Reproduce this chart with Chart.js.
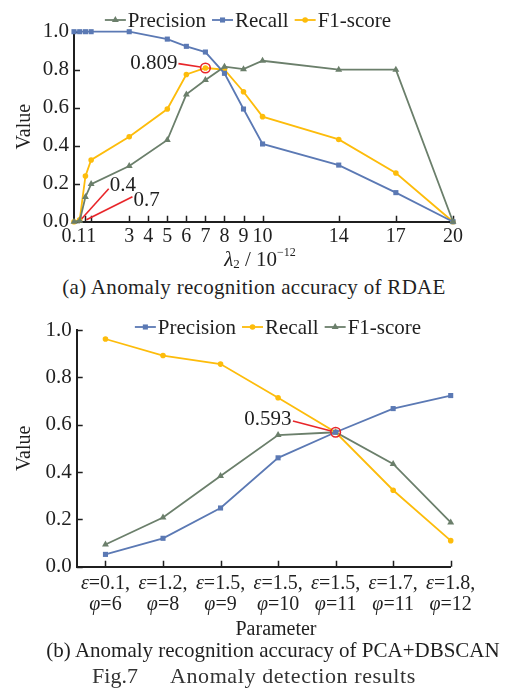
<!DOCTYPE html>
<html>
<head>
<meta charset="utf-8">
<script src="https://cdn.jsdelivr.net/npm/chart.js@4.4.0/dist/chart.umd.min.js"></script>
<style>
  body { margin: 0; background: #fff; }
  #page { position: relative; width: 508px; height: 697px; overflow: hidden;
          font-family: "Liberation Serif", "Times New Roman", serif; color: #1f1f1f; }
  .wrap { position: absolute; left: 0; width: 508px; }
  #wrapA { top: 0; height: 275px; }
  #wrapB { top: 305px; height: 340px; }
  .cap { position: absolute; left: 0; width: 508px; text-align: center; white-space: nowrap;
         font-size: 21px; line-height: 24px; }
</style>
</head>
<body>
<div id="page">
  <div class="wrap" id="wrapA"><canvas id="chartA"></canvas></div>
  <div class="cap" style="top:275px;letter-spacing:0.3px">(a) Anomaly recognition accuracy of RDAE</div>
  <div class="wrap" id="wrapB"><canvas id="chartB"></canvas></div>
  <div class="cap" style="top:638px;left:19px">(b) Anomaly recognition accuracy of PCA+DBSCAN</div>
  <div class="cap" style="top:664px;font-size:22px;color:#333"><span>Fig.7</span><span style="margin-left:32px;letter-spacing:0.6px">Anomaly detection results</span></div>
</div>
<script>
// (a) RDAE, x = lambda2 (x 10^-12)
const lambdaValues = [0.1, 0.4, 0.7, 1, 3, 5, 6, 7, 8, 9, 10, 14, 17, 20];
const rdaePrecision = [0, 0.005, 0.13, 0.198, 0.293, 0.43, 0.67, 0.746, 0.816, 0.803, 0.847, 0.80, 0.80, 0];
const rdaeRecall = [1, 1, 1, 1, 1, 0.961, 0.923, 0.893, 0.781, 0.593, 0.409, 0.298, 0.153, 0];
const rdaeF1 = [0, 0.01, 0.24, 0.325, 0.447, 0.593, 0.775, 0.809, 0.80, 0.684, 0.553, 0.433, 0.256, 0];
const lambdaTicks = [0.1, 0.4, 0.7, 1, 3, 4, 5, 6, 7, 8, 9, 10, 14, 17, 20];
const lambdaTickLabels = ['0.1', '', '', '1', '3', '4', '5', '6', '7', '8', '9', '10', '14', '17', '20'];

// (b) PCA+DBSCAN, x = parameter pair
const epsLabels = ['0.1', '1.2', '1.5', '1.5', '1.5', '1.7', '1.8'];
const phiLabels = ['6', '8', '9', '10', '11', '11', '12'];
const pcaPrecision = [0.052, 0.12, 0.248, 0.46, 0.568, 0.668, 0.723];
const pcaRecall = [0.962, 0.892, 0.856, 0.714, 0.568, 0.323, 0.11];
const pcaF1 = [0.094, 0.208, 0.383, 0.556, 0.568, 0.434, 0.187];

const valueTicks = [0, 0.2, 0.4, 0.6, 0.8, 1.0];

const SERIF = '"Liberation Serif", "Times New Roman", serif';
const INK = '#1f1f1f';
const BLUE = '#5b79b4';
const GREEN = '#6b7f6b';
const YELLOW = '#fdbc0b';
const RED = '#e8262a';

// draw a row of text pieces (mixed fonts) centred on cx
function drawParts(ctx, parts, cx, cy) {
  let total = 0;
  parts.forEach(p => { ctx.font = p.font; p.w = ctx.measureText(p.text).width; total += p.w; });
  let x = cx - total / 2;
  ctx.textAlign = 'left';
  ctx.textBaseline = 'middle';
  parts.forEach(p => { ctx.font = p.font; ctx.fillText(p.text, x, cy + (p.dy || 0)); x += p.w; });
}

// tick marks pointing into the plot
const inwardTicks = {
  id: 'inwardTicks',
  beforeDatasetsDraw(chart) {
    const { ctx, chartArea, scales: { x, y } } = chart;
    ctx.save();
    ctx.strokeStyle = INK;
    ctx.lineWidth = 1.5;
    ctx.beginPath();
    y.ticks.forEach(t => {
      const py = Math.round(y.getPixelForValue(t.value)) + 0.5;
      ctx.moveTo(chartArea.left, py);
      ctx.lineTo(chartArea.left + 6, py);
    });
    x.ticks.forEach(t => {
      if (t.value <= x.min) return;
      const px = Math.round(x.getPixelForValue(t.value)) + 0.5;
      ctx.moveTo(px, chartArea.bottom);
      ctx.lineTo(px, chartArea.bottom - 6);
    });
    ctx.stroke();
    ctx.restore();
  }
};

// legend with "-marker-" icons, drawn as one centred row
const lineLegend = {
  id: 'lineLegend',
  afterDraw(chart, args, opts) {
    const ctx = chart.ctx;
    const font = '21px ' + SERIF;
    ctx.save();
    ctx.font = font;
    const items = chart.data.datasets.map(ds => ({ ds, w: ctx.measureText(ds.label).width }));
    const iconW = 21, gapIcon = 2, gapItem = 6;
    let total = 0;
    items.forEach((it, i) => { total += iconW + gapIcon + it.w + (i ? gapItem : 0); });
    let x = opts.cx - total / 2;
    const y = opts.y;
    items.forEach((it, i) => {
      if (i) x += gapItem;
      ctx.strokeStyle = it.ds.borderColor;
      ctx.lineWidth = 1.8;
      ctx.beginPath();
      ctx.moveTo(x, y);
      ctx.lineTo(x + iconW, y);
      ctx.stroke();
      ctx.fillStyle = it.ds.borderColor;
      Chart.helpers.drawPoint(ctx, { pointStyle: it.ds.pointStyle, radius: it.ds.pointRadius, borderWidth: 0, rotation: 0 }, x + iconW / 2, y);
      x += iconW + gapIcon;
      ctx.fillStyle = INK;
      ctx.font = font;
      ctx.textAlign = 'left';
      ctx.textBaseline = 'middle';
      ctx.fillText(it.ds.label, x, y + 1);
      x += it.w;
    });
    ctx.restore();
  }
};

function ring(ctx, px, py) {
  ctx.strokeStyle = RED;
  ctx.lineWidth = 1.6;
  ctx.beginPath();
  ctx.arc(px, py, 4.8, 0, Math.PI * 2);
  ctx.stroke();
}

function redLine(ctx, x1, y1, x2, y2) {
  ctx.strokeStyle = RED;
  ctx.lineWidth = 1.6;
  ctx.beginPath();
  ctx.moveTo(x1, y1);
  ctx.lineTo(x2, y2);
  ctx.stroke();
}

const notesA = {
  id: 'notesA',
  afterDraw(chart) {
    const { ctx, scales: { x, y } } = chart;
    ctx.save();
    // best F1 point
    const cx = x.getPixelForValue(7), cy = y.getPixelForValue(0.809);
    ring(ctx, cx, cy);
    redLine(ctx, cx - 27, cy - 4.4, cx - 5, cy - 1);
    ctx.fillStyle = INK;
    ctx.font = '21px ' + SERIF;
    ctx.textAlign = 'right';
    ctx.textBaseline = 'middle';
    ctx.fillText('0.809', cx - 28, cy - 4.5);
    // unlabelled ticks 0.4 and 0.7
    const y0 = y.getPixelForValue(0);
    const x4 = x.getPixelForValue(0.4), x7 = x.getPixelForValue(0.7);
    redLine(ctx, x4 + 2, y0 - 3, x4 + 29, y0 - 33);
    redLine(ctx, x7 + 1, y0 - 2, x7 + 47, y0 - 25);
    ctx.textAlign = 'left';
    ctx.fillText('0.4', x4 + 30, y0 - 36);
    ctx.fillText('0.7', x7 + 48, y0 - 21);
    // x axis title: lambda_2 / 10^-12
    drawParts(ctx, [
      { text: 'λ', font: 'italic 21px ' + SERIF },
      { text: '2', font: '13px ' + SERIF, dy: 5 },
      { text: ' / 10', font: '21px ' + SERIF },
      { text: '−12', font: '12px ' + SERIF, dy: -7 }
    ], 260, 260);
    ctx.restore();
  }
};

const notesB = {
  id: 'notesB',
  afterDraw(chart) {
    const { ctx, chartArea, scales: { x, y } } = chart;
    ctx.save();
    const cx = x.getPixelForValue(4), cy = y.getPixelForValue(0.568);
    ring(ctx, cx, cy);
    redLine(ctx, cx - 42.7, cy - 11.3, cx - 4.5, cy - 1.2);
    ctx.fillStyle = INK;
    ctx.font = '21px ' + SERIF;
    ctx.textAlign = 'right';
    ctx.textBaseline = 'middle';
    ctx.fillText('0.593', cx - 44, cy - 13);
    // two-line category labels with italic greek letters
    epsLabels.forEach((e, i) => {
      const px = x.getPixelForValue(i);
      drawParts(ctx, [
        { text: 'ε', font: 'italic 20px ' + SERIF },
        { text: '=' + e + ',', font: '20px ' + SERIF }
      ], px, chartArea.bottom + 17);
      drawParts(ctx, [
        { text: 'φ', font: 'italic 20px ' + SERIF },
        { text: '=' + phiLabels[i], font: '20px ' + SERIF }
      ], px, chartArea.bottom + 38.5);
    });
    // axis title
    drawParts(ctx, [{ text: 'Parameter', font: '20px ' + SERIF }], 276, chartArea.bottom + 63);
    ctx.restore();
  }
};

function series(label, xs, ys, color, style, radius) {
  return {
    label: label,
    data: xs.map((v, i) => ({ x: v, y: ys[i] })),
    borderColor: color,
    backgroundColor: color,
    pointBackgroundColor: color,
    pointBorderWidth: 0,
    pointStyle: style,
    pointRadius: radius,
    borderWidth: 1.8,
    tension: 0,
    clip: false
  };
}

function valueAxis(width) {
  return {
    min: 0,
    max: 1,
    afterBuildTicks: s => { s.ticks = valueTicks.map(v => ({ value: v })); },
    ticks: { callback: v => v.toFixed(1), font: { family: SERIF, size: 21 }, color: INK, padding: 5 },
    grid: { display: false, drawTicks: false },
    border: { display: true, color: INK, width: 2 },
    title: { display: true, text: 'Value', font: { family: SERIF, size: 20 }, color: INK, padding: { top: 13, bottom: 0 } },
    afterFit: s => { s.width = width; }
  };
}

Chart.defaults.font.family = SERIF;
Chart.defaults.color = INK;

new Chart(document.getElementById('chartA'), {
  type: 'line',
  data: {
    datasets: [
      series('Precision', lambdaValues, rdaePrecision, GREEN, 'triangle', 4),
      series('Recall', lambdaValues, rdaeRecall, BLUE, 'rect', 3.6),
      series('F1-score', lambdaValues, rdaeF1, YELLOW, 'circle', 2.8)
    ]
  },
  options: {
    responsive: true,
    maintainAspectRatio: false,
    animation: false,
    layout: { padding: { top: 31.7, right: 55, left: 0, bottom: 0 } },
    plugins: { legend: { display: false }, tooltip: { enabled: false }, lineLegend: { cx: 248, y: 20 } },
    scales: {
      x: {
        type: 'linear',
        min: 0.1,
        max: 20,
        afterBuildTicks: s => { s.ticks = lambdaTicks.map(v => ({ value: v })); },
        ticks: {
          autoSkip: false,
          maxRotation: 0,
          callback: v => lambdaTickLabels[lambdaTicks.indexOf(v)] || '',
          font: { family: SERIF, size: 20 },
          color: INK,
          padding: 3
        },
        grid: { display: false, drawTicks: false },
        border: { display: true, color: INK, width: 2 },
        afterFit: s => { s.height = 275 - 221.7; }
      },
      y: valueAxis(74)
    }
  },
  plugins: [inwardTicks, lineLegend, notesA]
});

const idx = epsLabels.map((e, i) => i);

new Chart(document.getElementById('chartB'), {
  type: 'line',
  data: {
    datasets: [
      series('Precision', idx, pcaPrecision, BLUE, 'rect', 3.6),
      series('Recall', idx, pcaRecall, YELLOW, 'circle', 2.8),
      series('F1-score', idx, pcaF1, GREEN, 'triangle', 4)
    ]
  },
  options: {
    responsive: true,
    maintainAspectRatio: false,
    animation: false,
    layout: { padding: { top: 25, right: 57.3, left: 0, bottom: 0 } },
    plugins: { legend: { display: false }, tooltip: { enabled: false }, lineLegend: { cx: 278, y: 22 } },
    scales: {
      x: {
        type: 'linear',
        min: -0.5,
        max: 6,
        afterBuildTicks: s => { s.ticks = idx.map(v => ({ value: v })); },
        ticks: { display: false },
        grid: { display: false, drawTicks: false },
        border: { display: true, color: INK, width: 2 },
        afterFit: s => { s.height = 340 - 261.7; }
      },
      y: valueAxis(76.7)
    }
  },
  plugins: [inwardTicks, lineLegend, notesB]
});
</script>
</body>
</html>
